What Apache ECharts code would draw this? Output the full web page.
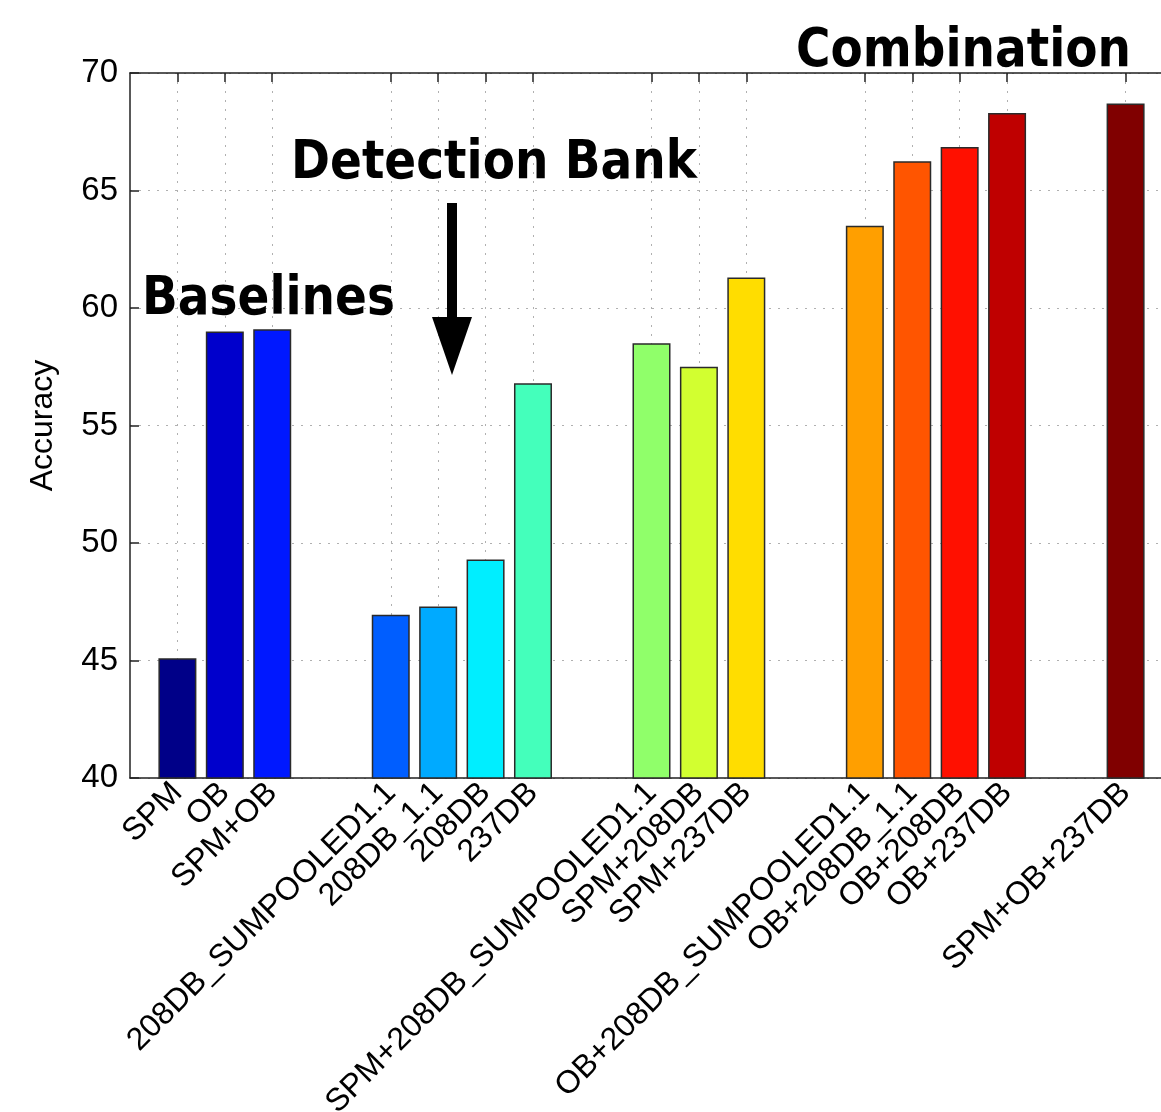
<!DOCTYPE html>
<html>
<head>
<meta charset="utf-8">
<script src="https://cdn.jsdelivr.net/npm/echarts@6/dist/echarts.min.js"></script>
<style>html,body{margin:0;padding:0;background:#fff;overflow:hidden;}#chart{width:1190px;height:1112px;}</style>
</head>
<body>
<div id="chart"></div>
<script>
// ---- data ----
const labels = ['SPM','OB','SPM+OB',
  '208DB_SUMPOOLED1.1','208DB_1.1','208DB','237DB',
  'SPM+208DB_SUMPOOLED1.1','SPM+208DB','SPM+237DB',
  'OB+208DB_SUMPOOLED1.1','OB+208DB_1.1','OB+208DB','OB+237DB',
  'SPM+OB+237DB'];
const groupSizes = [3, 4, 3, 4, 1];
const accuracy = [45.1, 59.0, 59.1,
  46.95, 47.3, 49.3, 56.8,
  58.5, 57.5, 61.3,
  63.5, 66.25, 66.85, 68.3,
  68.7];
const yMin = 40, yMax = 70, yStep = 5;
const annotations = ['Baselines', 'Detection Bank', 'Combination'];

// ---- styling ----
const barColors = ['#000088','#0000CC','#0018FF','#005EFF','#00AAFF','#00EEFF','#44FFBB',
  '#90FF6A','#D2FF30','#FFDD00','#FF9F00','#FF5500','#FF1000','#BF0000','#800000'];

// build half-slot category layout: slots every half bar-step, gap of 2.5 steps between groups
const nHalf = 45;
const cats = new Array(nHalf).fill('');
const values = new Array(nHalf).fill('-');
let idx = 2, k = 0;
groupSizes.forEach((g) => {
  for (let j = 0; j < g; j++) {
    cats[idx] = labels[k];
    values[idx] = { value: accuracy[k], itemStyle: { color: barColors[k] } };
    k++;
    if (j < g - 1) idx += 2;
  }
  idx += 5;
});
const isBar = (i) => cats[i] !== '';

const axisFont = 'Liberation Sans, Arial, Helvetica, sans-serif';
const annFont = 'DejaVu Sans, Verdana, sans-serif';
const annStyle = (t) => ({ text: t, font: 'bold 47px ' + annFont, fill: '#000', verticalAlign: 'top' });

const chart = echarts.init(document.getElementById('chart'));
chart.setOption({
  animation: false,
  backgroundColor: '#fff',
  grid: { left: 130, top: 73, width: 1043, height: 705, containLabel: false, outerBoundsMode: 'none' },
  xAxis: [{
    type: 'category', data: cats, boundaryGap: false, position: 'bottom',
    axisLine: { show: true, lineStyle: { color: '#222', width: 1.5 } },
    axisTick: { show: true, inside: true, length: 9, interval: isBar, lineStyle: { color: '#222', width: 1.5 } },
    axisLabel: { show: true, interval: isBar, rotate: 45, fontSize: 32, color: '#000', fontFamily: axisFont, margin: 10 },
    splitLine: { show: true, interval: isBar, lineStyle: { color: '#b0b0b0', type: [2, 7], width: 1 } }
  }, {
    type: 'category', data: cats, boundaryGap: false, position: 'top',
    axisLine: { show: true, lineStyle: { color: '#222', width: 1.5 } },
    axisTick: { show: true, inside: true, length: 9, interval: isBar, lineStyle: { color: '#222', width: 1.5 } },
    axisLabel: { show: false }, splitLine: { show: false }
  }],
  yAxis: [{
    type: 'value', min: yMin, max: yMax, interval: yStep, position: 'left',
    name: 'Accuracy', nameLocation: 'middle', nameGap: 71,
    nameTextStyle: { fontSize: 32, color: '#000', fontFamily: axisFont },
    axisLine: { show: true, lineStyle: { color: '#222', width: 1.5 } },
    axisTick: { show: true, inside: true, length: 9, lineStyle: { color: '#222', width: 1.5 } },
    axisLabel: { fontSize: 33, color: '#000', fontFamily: axisFont, margin: 12 },
    splitLine: { show: true, lineStyle: { color: '#b0b0b0', type: [2, 7], width: 1 } }
  }, {
    type: 'value', min: yMin, max: yMax, interval: yStep, position: 'right',
    axisLine: { show: true, lineStyle: { color: '#222', width: 1.5 } },
    axisTick: { show: true, inside: true, length: 9 },
    axisLabel: { show: false }, splitLine: { show: false }
  }],
  series: [{
    type: 'bar', xAxisIndex: 0, yAxisIndex: 0, data: values, barWidth: 38,
    itemStyle: { borderColor: '#2a2a2a', borderWidth: 1.5 }
  }],
  graphic: [
    { type: 'text', x: 142, y: 274.5, scaleY: 1.12, style: annStyle(annotations[0]), z: 100 },
    { type: 'text', x: 291, y: 138.5, scaleY: 1.12, style: annStyle(annotations[1]), z: 100 },
    { type: 'text', x: 796, y: 26.5, scaleY: 1.12, style: annStyle(annotations[2]), z: 100 },
    { type: 'rect', shape: { x: 447, y: 203, width: 10, height: 116 }, style: { fill: '#000' }, z: 100 },
    { type: 'polygon', shape: { points: [[432, 317], [472, 317], [452, 375]] }, style: { fill: '#000' }, z: 100 }
  ]
});
</script>
</body>
</html>
